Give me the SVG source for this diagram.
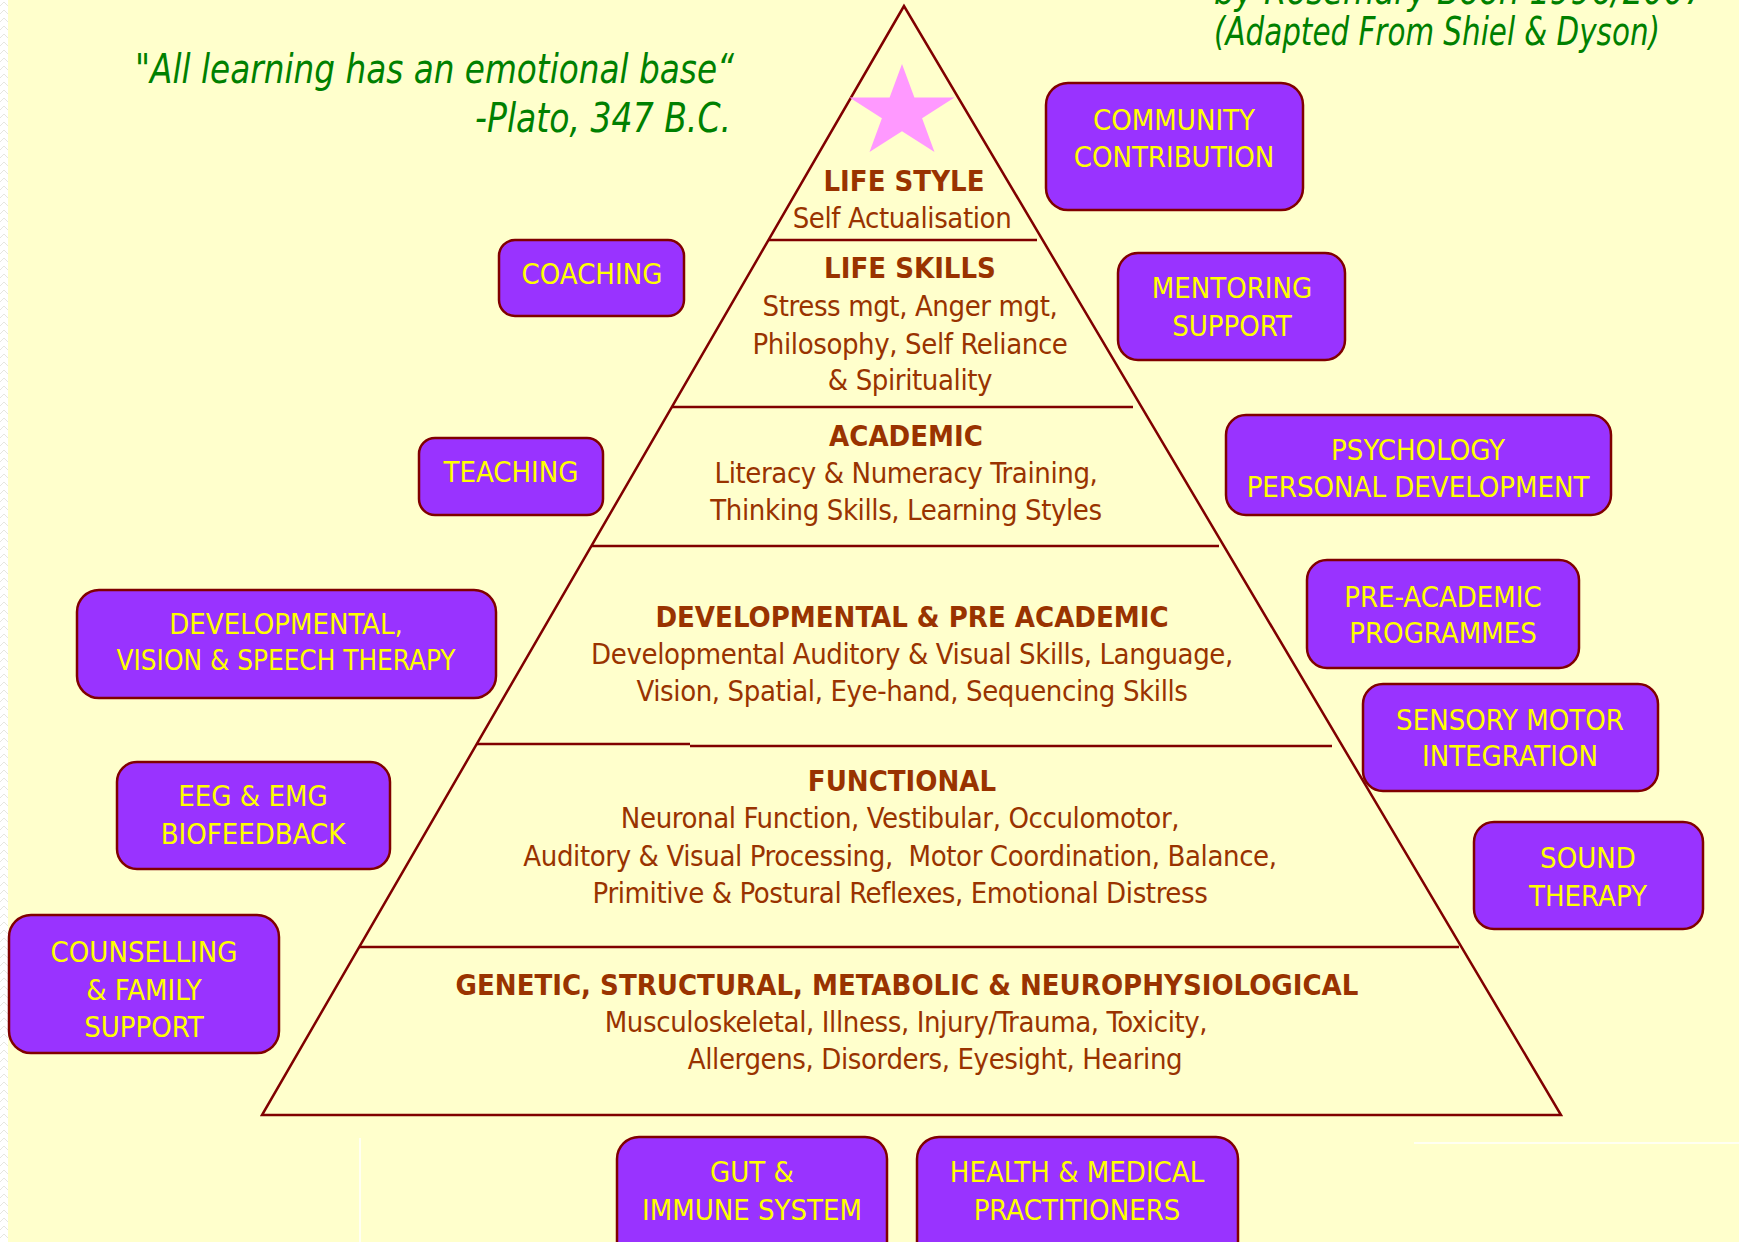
<svg xmlns="http://www.w3.org/2000/svg" width="1739" height="1242" viewBox="0 0 1739 1242">
  <defs>
    <style>
      .bg { fill: #FFFFCC; }
      .edge { fill: none; stroke: #800000; stroke-width: 2.5; }
      .tier { font-family: 'DejaVu Sans Condensed', 'DejaVu Sans', sans-serif; font-size: 29px; fill: #993300; text-anchor: middle; letter-spacing: -0.4px; }
      .tier .head { font-weight: bold; letter-spacing: 0; }
      .box rect { fill: #9933FF; stroke: #800000; stroke-width: 2.5; }
      .box text { font-family: 'DejaVu Sans Condensed', 'DejaVu Sans', sans-serif; font-size: 29px; fill: #FFFF00; text-anchor: middle; }
      .quote { font-family: 'DejaVu Sans Condensed', 'DejaVu Sans', sans-serif; font-style: italic; fill: #008000; }
    </style>
    <pattern id="zig" width="8" height="8" patternUnits="userSpaceOnUse">
      <rect width="8" height="8" fill="#FFFFFF"/>
      <path d="M0 6 L4 2 L8 6" fill="none" stroke="#E6E6E0" stroke-width="1"/>
    </pattern>
  </defs>

  <!-- page -->
  <rect class="bg" x="0" y="0" width="1739" height="1242"/>
  <rect x="0" y="0" width="8" height="1242" fill="url(#zig)"/>
  <line x1="360" y1="1138" x2="360" y2="1242" stroke="#FFFFFF" stroke-width="1.5"/>
  <line x1="1414" y1="1143" x2="1739" y2="1143" stroke="#FFFFFF" stroke-width="1.5"/>

  <!-- quotation and credits -->
  <g id="quote" class="quote" font-size="41">
    <text x="135" y="83" textLength="599" lengthAdjust="spacingAndGlyphs">"All learning has an emotional base“</text>
    <text x="475" y="132" textLength="256" lengthAdjust="spacingAndGlyphs">-Plato, 347 B.C.</text>
  </g>
  <g id="credit" class="quote" font-size="39">
    <text x="1214" y="4" textLength="491" lengthAdjust="spacingAndGlyphs">by Rosemary Boon 1996/2007</text>
    <text x="1214" y="45" textLength="446" lengthAdjust="spacingAndGlyphs">(Adapted From Shiel &amp; Dyson)</text>
  </g>

  <!-- pyramid outline and tier dividers -->
  <g id="pyramid">
    <polygon class="edge" points="904,6 262,1115 1561,1115"/>
    <line class="edge" x1="768" y1="240" x2="1037" y2="240"/>
    <line class="edge" x1="672" y1="407" x2="1133" y2="407"/>
    <line class="edge" x1="591" y1="546" x2="1219" y2="546"/>
    <line class="edge" x1="477" y1="744" x2="690" y2="744"/>
    <line class="edge" x1="690" y1="746" x2="1332" y2="746"/>
    <line class="edge" x1="359" y1="947" x2="1459" y2="947"/>
    <polygon id="star" fill="#FF99FF" points="902,64 914.4,97.6 954.5,97.6 922.1,118.3 934.5,151.9 902,131.2 869.5,151.9 881.9,118.3 849.5,97.6 889.6,97.6"/>
  </g>

  <g id="tier-lifestyle" class="tier">
    <text class="head" x="904" y="191">LIFE STYLE</text>
    <text x="902" y="228">Self Actualisation</text>
  </g>
  <g id="tier-lifeskills" class="tier">
    <text class="head" x="910" y="278">LIFE SKILLS</text>
    <text x="910" y="316">Stress mgt, Anger mgt,</text>
    <text x="910" y="354">Philosophy, Self Reliance</text>
    <text x="910" y="390">&amp; Spirituality</text>
  </g>
  <g id="tier-academic" class="tier">
    <text class="head" x="906" y="446">ACADEMIC</text>
    <text x="906" y="483">Literacy &amp; Numeracy Training,</text>
    <text x="906" y="520">Thinking Skills, Learning Styles</text>
  </g>
  <g id="tier-developmental" class="tier">
    <text class="head" x="912" y="627">DEVELOPMENTAL &amp; PRE ACADEMIC</text>
    <text x="912" y="664">Developmental Auditory &amp; Visual Skills, Language,</text>
    <text x="912" y="701">Vision, Spatial, Eye-hand, Sequencing Skills</text>
  </g>
  <g id="tier-functional" class="tier">
    <text class="head" x="902" y="791">FUNCTIONAL</text>
    <text x="900" y="828">Neuronal Function, Vestibular, Occulomotor,</text>
    <text x="900" y="866" xml:space="preserve">Auditory &amp; Visual Processing,  Motor Coordination, Balance,</text>
    <text x="900" y="903">Primitive &amp; Postural Reflexes, Emotional Distress</text>
  </g>
  <g id="tier-genetic" class="tier">
    <text class="head" x="907" y="995">GENETIC, STRUCTURAL, METABOLIC &amp; NEUROPHYSIOLOGICAL</text>
    <text x="906" y="1032">Musculoskeletal, Illness, Injury/Trauma, Toxicity,</text>
    <text x="935" y="1069">Allergens, Disorders, Eyesight, Hearing</text>
  </g>

  <!-- support services -->
  <g id="community" class="box">
    <rect x="1046" y="83" width="257" height="127" rx="22"/>
    <text x="1174" y="130">COMMUNITY</text>
    <text x="1174" y="167">CONTRIBUTION</text>
  </g>
  <g id="mentoring" class="box">
    <rect x="1118" y="253" width="227" height="107" rx="20"/>
    <text x="1232" y="298">MENTORING</text>
    <text x="1232" y="336">SUPPORT</text>
  </g>
  <g id="psychology" class="box">
    <rect x="1226" y="415" width="385" height="100" rx="20"/>
    <text x="1418" y="460">PSYCHOLOGY</text>
    <text x="1418" y="497">PERSONAL DEVELOPMENT</text>
  </g>
  <g id="preacademic" class="box">
    <rect x="1307" y="560" width="272" height="108" rx="20"/>
    <text x="1443" y="607">PRE-ACADEMIC</text>
    <text x="1443" y="643">PROGRAMMES</text>
  </g>
  <g id="sensory" class="box">
    <rect x="1363" y="684" width="295" height="107" rx="20"/>
    <text x="1510" y="730">SENSORY MOTOR</text>
    <text x="1510" y="766">INTEGRATION</text>
  </g>
  <g id="sound" class="box">
    <rect x="1474" y="822" width="229" height="107" rx="20"/>
    <text x="1588" y="868">SOUND</text>
    <text x="1588" y="906">THERAPY</text>
  </g>
  <g id="coaching" class="box">
    <rect x="499" y="240" width="185" height="76" rx="16"/>
    <text x="592" y="284">COACHING</text>
  </g>
  <g id="teaching" class="box">
    <rect x="419" y="438" width="184" height="77" rx="16"/>
    <text x="511" y="482">TEACHING</text>
  </g>
  <g id="developmental" class="box">
    <rect x="77" y="590" width="419" height="108" rx="22"/>
    <text x="286" y="634">DEVELOPMENTAL,</text>
    <text x="286" y="670" textLength="339" lengthAdjust="spacingAndGlyphs">VISION &amp; SPEECH THERAPY</text>
  </g>
  <g id="biofeedback" class="box">
    <rect x="117" y="762" width="273" height="107" rx="20"/>
    <text x="253" y="806">EEG &amp; EMG</text>
    <text x="253" y="844">BIOFEEDBACK</text>
  </g>
  <g id="counselling" class="box">
    <rect x="9" y="915" width="270" height="138" rx="22"/>
    <text x="144" y="962">COUNSELLING</text>
    <text x="144" y="1000">&amp; FAMILY</text>
    <text x="144" y="1037">SUPPORT</text>
  </g>
  <g id="gut" class="box">
    <rect x="617" y="1137" width="270" height="130" rx="22"/>
    <text x="752" y="1182">GUT &amp;</text>
    <text x="752" y="1220">IMMUNE SYSTEM</text>
  </g>
  <g id="health" class="box">
    <rect x="917" y="1137" width="321" height="130" rx="22"/>
    <text x="1077" y="1182">HEALTH &amp; MEDICAL</text>
    <text x="1077" y="1220">PRACTITIONERS</text>
  </g>
</svg>
